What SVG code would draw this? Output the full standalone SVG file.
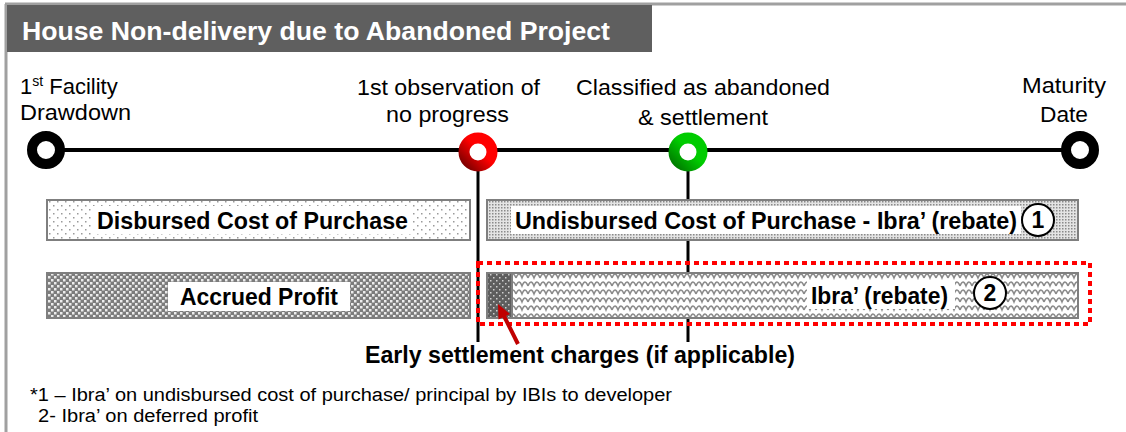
<svg xmlns="http://www.w3.org/2000/svg" width="1126" height="432" viewBox="0 0 1126 432">
<style>
.t{font-family:"Liberation Sans",Arial,sans-serif;fill:#000}
.lbl{font-size:22px}
.b{font-size:23px;font-weight:bold}
.bar{stroke:#7f7f7f;stroke-width:2}
.tl{stroke:#000;stroke-width:4;fill:none}
.vl{stroke:#000;stroke-width:3}
.num{fill:#fff;stroke:#000;stroke-width:2}
</style>
<defs>
<pattern id="pLight" width="8" height="8" patternUnits="userSpaceOnUse"><rect width="8" height="8" fill="#fff"/><rect x="1" y="1" width="1.5" height="1.5" fill="#9a9a9a"/><rect x="5" y="5" width="1.5" height="1.5" fill="#9a9a9a"/></pattern>
<pattern id="pDense" width="3" height="3" patternUnits="userSpaceOnUse"><rect width="3" height="3" fill="#e4e4e4"/><rect x="0" y="0" width="1.5" height="1.5" fill="#8a8a8a"/></pattern>
<pattern id="pCheck" width="6" height="6" patternUnits="userSpaceOnUse"><rect width="6" height="6" fill="#7c7c7c"/><rect x="0" y="0" width="2.5" height="2.5" fill="#ececec"/><rect x="3" y="3" width="2.5" height="2.5" fill="#ececec"/></pattern>
<pattern id="pWave" width="12" height="8" patternUnits="userSpaceOnUse"><rect width="12" height="8" fill="#fff"/><path d="M0 6 Q1.5 2 3 2 Q4.5 2 6 6 Q7.5 2 9 2 Q10.5 2 12 6" fill="none" stroke="#8a8a8a" stroke-width="1.5"/></pattern>
<pattern id="pDark" width="6" height="6" patternUnits="userSpaceOnUse"><rect width="6" height="6" fill="#5e5e5e"/><rect x="1" y="1" width="1.5" height="1.5" fill="#cfcfcf"/><rect x="4" y="4" width="1.5" height="1.5" fill="#cfcfcf"/></pattern>
<linearGradient id="gRed" x1="1" y1="0" x2="0" y2="1"><stop offset="0.45" stop-color="#ff0000"/><stop offset="1" stop-color="#7a0000"/></linearGradient>
<linearGradient id="gGreen" x1="1" y1="0" x2="0" y2="1"><stop offset="0.45" stop-color="#00cc00"/><stop offset="1" stop-color="#007a00"/></linearGradient>
</defs>
<rect width="1126" height="432" fill="#fff"/>
<g id="frame">
<line x1="5" y1="4" x2="1126" y2="4" stroke="#a0a0a0" stroke-width="3"/>
<line x1="6" y1="4" x2="6" y2="432" stroke="#a0a0a0" stroke-width="3"/>
<rect x="7" y="5" width="645" height="47" fill="#5f5f5f"/>
<text x="22" y="40" font-family="Liberation Sans,Arial,sans-serif" font-size="26" font-weight="bold" fill="#fff" textLength="588" lengthAdjust="spacingAndGlyphs">House Non-delivery due to Abandoned Project</text>
</g>
<g id="connectors">
<line class="tl" x1="46" y1="150" x2="1080" y2="150"/>
<line class="vl" x1="478" y1="160" x2="478" y2="342"/>
<line class="vl" x1="688" y1="160" x2="688" y2="342"/>
</g>
<g id="m1"><circle cx="46" cy="150" r="14" fill="#fff" stroke="#000" stroke-width="10"/>
<text class="t lbl" x="20" y="94">1<tspan font-size="14" dy="-8">st</tspan><tspan dy="8"> Facility</tspan></text>
<text class="t lbl" x="20" y="120" textLength="111" lengthAdjust="spacingAndGlyphs">Drawdown</text></g>
<g id="m2"><circle cx="478" cy="152" r="14" fill="#fff" stroke="url(#gRed)" stroke-width="11"/>
<text class="t lbl" x="357" y="95" textLength="183" lengthAdjust="spacingAndGlyphs">1st observation of</text>
<text class="t lbl" x="386" y="122" textLength="123" lengthAdjust="spacingAndGlyphs">no progress</text></g>
<g id="m3"><circle cx="688" cy="152" r="14" fill="#fff" stroke="url(#gGreen)" stroke-width="11"/>
<text class="t lbl" x="576" y="95" textLength="254" lengthAdjust="spacingAndGlyphs">Classified as abandoned</text>
<text class="t lbl" x="638" y="125" textLength="130" lengthAdjust="spacingAndGlyphs">&amp; settlement</text></g>
<g id="m4"><circle cx="1080" cy="150" r="14" fill="#fff" stroke="#000" stroke-width="10"/>
<text class="t lbl" x="1022" y="93" textLength="84" lengthAdjust="spacingAndGlyphs">Maturity</text>
<text class="t lbl" x="1040" y="122" textLength="48" lengthAdjust="spacingAndGlyphs">Date</text></g>
<g id="disbursed">
<rect class="bar" x="47" y="200" width="423" height="40" fill="url(#pLight)"/>
<rect x="93" y="206" width="320" height="28" fill="#fff"/>
<text class="t b" x="97" y="229" textLength="311" lengthAdjust="spacingAndGlyphs">Disbursed Cost of Purchase</text>
</g>
<g id="undisbursed">
<rect class="bar" x="487" y="200" width="591" height="40" fill="url(#pDense)"/>
<rect x="511" y="206" width="510" height="28" fill="#fff"/>
<text class="t b" x="515" y="229" textLength="502" lengthAdjust="spacingAndGlyphs">Undisbursed Cost of Purchase - Ibra’ (rebate)</text>
<circle class="num" cx="1038" cy="220" r="16"/>
<text class="t b" x="1038" y="228" text-anchor="middle">1</text>
</g>
<g id="accrued">
<rect class="bar" x="47" y="273" width="423" height="45" fill="url(#pCheck)"/>
<rect x="168" y="282" width="182" height="29" fill="#fff"/>
<text class="t b" x="180" y="305" textLength="158" lengthAdjust="spacingAndGlyphs">Accrued Profit</text>
</g>
<g id="ibra">
<rect x="478" y="263" width="612" height="61" fill="none" stroke="#ff0000" stroke-width="4" stroke-dasharray="5,4"/>
<rect class="bar" x="487" y="273" width="591" height="45" fill="url(#pWave)"/>
<rect x="487" y="273" width="25" height="45" fill="url(#pDark)" stroke="#7f7f7f" stroke-width="2"/>
<rect x="807" y="281" width="148" height="28" fill="#fff"/>
<text class="t b" x="811" y="304" textLength="137" lengthAdjust="spacingAndGlyphs">Ibra’ (rebate)</text>
<circle class="num" cx="990" cy="293" r="16"/>
<text class="t b" x="990" y="301" text-anchor="middle">2</text>
</g>
<g id="arrow">
<line x1="518" y1="344" x2="504" y2="316" stroke="#c00000" stroke-width="4"/>
<polygon points="498,304 510,314 498.5,319.5" fill="#c00000"/>
</g>
<g id="early">
<text class="t b" x="365" y="363" textLength="430" lengthAdjust="spacingAndGlyphs">Early settlement charges (if applicable)</text>
</g>
<g id="notes">
<text class="t" x="30" y="401" font-size="18" textLength="642" lengthAdjust="spacingAndGlyphs">*1 – Ibra’ on undisbursed cost of purchase/ principal by IBIs to developer</text>
<text class="t" x="38" y="422" font-size="18" textLength="220" lengthAdjust="spacingAndGlyphs">2- Ibra’ on deferred profit</text>
</g>
</svg>
